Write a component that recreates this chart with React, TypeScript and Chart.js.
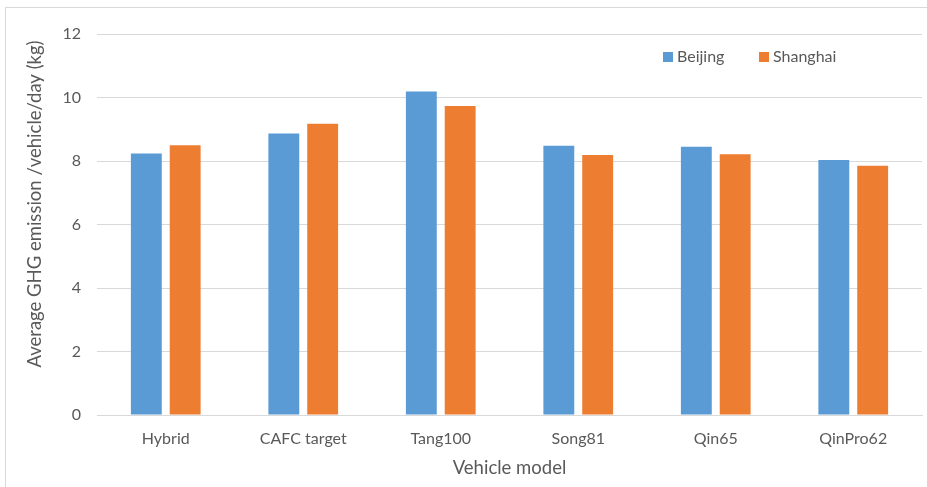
import React, { useEffect, useRef } from "react";
import { Chart, registerables } from "chart.js";

Chart.register(...registerables);

const categories = ["Hybrid", "CAFC target", "Tang100", "Song81", "Qin65", "QinPro62"];
const beijing = [8.24, 8.87, 10.19, 8.48, 8.45, 8.03];
const shanghai = [8.5, 9.17, 9.73, 8.19, 8.21, 7.85];
const seriesNames = ["Beijing", "Shanghai"];
const seriesColors = ["#5B9BD5", "#ED7D31"];
const yTicks = [0, 2, 4, 6, 8, 10, 12];
const xTitle = "Vehicle model";
const yTitle = "Average GHG emission /vehicle/day (kg)";

const FONT = "Lato, 'Open Sans', sans-serif";
const TEXT = "#595959";

const framePlugin = {
  id: "frame",
  beforeDraw(chart: any) {
    const ctx = chart.ctx;
    ctx.save();
    ctx.fillStyle = "#ffffff";
    ctx.fillRect(0, 0, chart.width, chart.height);
    ctx.strokeStyle = "#d9d9d9";
    ctx.lineWidth = 1;
    ctx.strokeRect(5.5, 7.5, chart.width + 20, chart.height + 20);
    ctx.restore();
  },
};

const overlayPlugin = {
  id: "overlay",
  afterDraw(chart: any) {
    const ctx = chart.ctx;
    ctx.save();
    ctx.font = `16px ${FONT}`;
    ctx.textBaseline = "middle";
    const xs = [663, 759];
    const y = 57;
    seriesNames.forEach((name, i) => {
      ctx.fillStyle = seriesColors[i];
      ctx.fillRect(xs[i], y - 5, 10, 10);
      ctx.fillStyle = TEXT;
      ctx.fillText(name, xs[i] + 14, y);
    });
    ctx.translate(35, 204);
    ctx.rotate(-Math.PI / 2);
    ctx.textAlign = "center";
    ctx.font = `18.5px ${FONT}`;
    ctx.fillStyle = TEXT;
    ctx.fillText(yTitle, 0, 0);
    ctx.restore();
  },
};

export default function App() {
  const ref = useRef<HTMLCanvasElement | null>(null);
  useEffect(() => {
    document.body.style.margin = "0";
    const chart = new Chart(ref.current!, {
      type: "bar",
      data: {
        labels: categories,
        datasets: [
          { label: seriesNames[0], data: beijing, backgroundColor: seriesColors[0] },
          { label: seriesNames[1], data: shanghai, backgroundColor: seriesColors[1] },
        ],
      },
      options: {
        animation: false,
        responsive: false,
        maintainAspectRatio: false,
        devicePixelRatio: 1,
        layout: { padding: { left: 0, right: 5, top: 34, bottom: 0 } },
        datasets: {
          bar: { categoryPercentage: 0.565, barPercentage: 0.795 },
        },
        plugins: {
          legend: { display: false },
          tooltip: { enabled: false },
        },
        scales: {
          x: {
            grid: { display: false, drawTicks: false },
            border: { display: true, color: "#d9d9d9", width: 1 },
            ticks: { color: TEXT, font: { family: FONT, size: 16 }, padding: 14 },
            title: {
              display: true,
              text: xTitle,
              color: TEXT,
              font: { family: FONT, size: 18.5 },
              padding: { top: 6, bottom: 8 },
            },
            afterFit(scale: any) {
              scale.height = 72;
            },
          },
          y: {
            min: 0,
            max: 12,
            afterBuildTicks(scale: any) {
              scale.ticks = yTicks.map((v) => ({ value: v }));
            },
            grid: { color: "#d9d9d9", drawTicks: false, lineWidth: 1 },
            border: { display: false },
            ticks: { color: TEXT, font: { family: FONT, size: 16 }, padding: 16 },
            afterFit(scale: any) {
              scale.width = 97;
            },
          },
        },
      },
      plugins: [framePlugin, overlayPlugin],
    });
    return () => chart.destroy();
  }, []);
  return (
    <div style={{ width: 927, height: 487 }}>
      <canvas ref={ref} width={927} height={487} style={{ display: "block" }} />
    </div>
  );
}
